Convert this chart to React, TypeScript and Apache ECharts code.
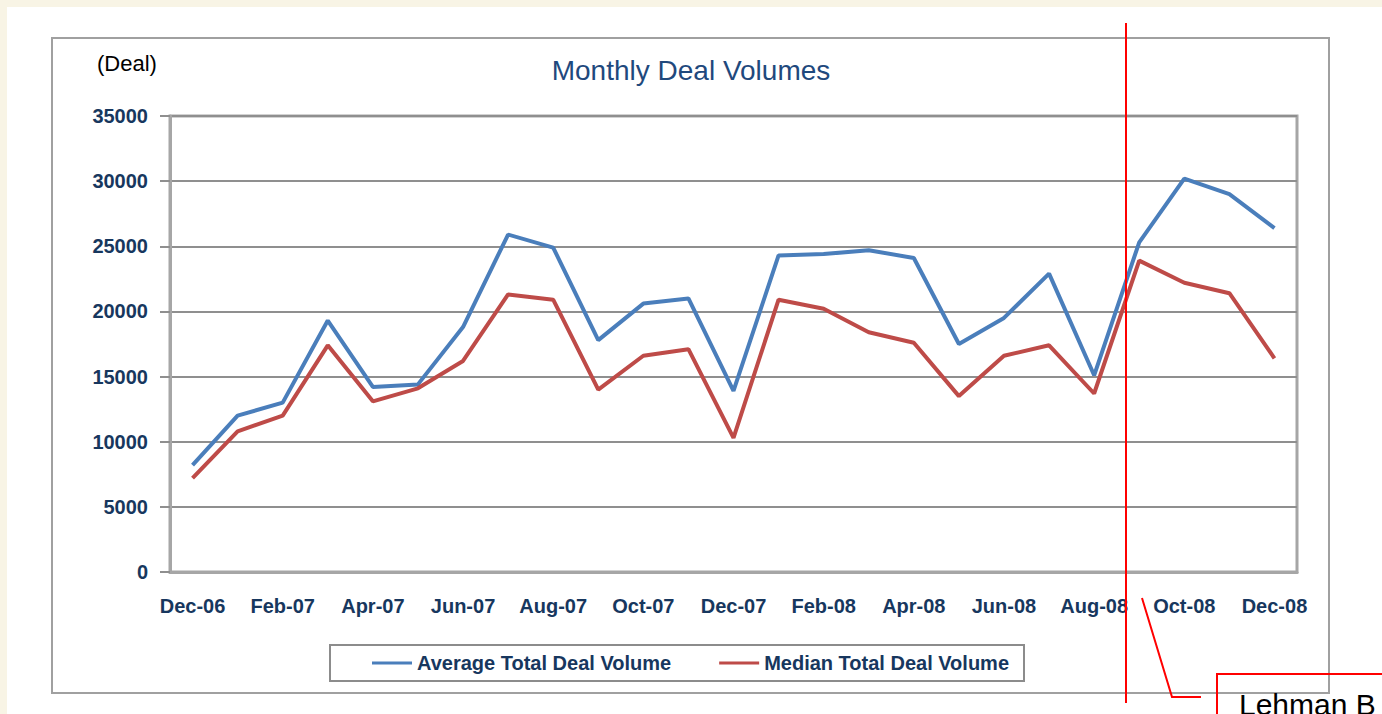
import React, { useEffect, useRef } from "react";
import * as echarts from "echarts";

const months: string[] = [
  "Dec-06", "Jan-07", "Feb-07", "Mar-07", "Apr-07", "May-07", "Jun-07", "Jul-07", "Aug-07",
  "Sep-07", "Oct-07", "Nov-07", "Dec-07", "Jan-08", "Feb-08", "Mar-08", "Apr-08", "May-08",
  "Jun-08", "Jul-08", "Aug-08", "Sep-08", "Oct-08", "Nov-08", "Dec-08",
];

const averageVolume: number[] = [
  8200, 12000, 13000, 19300, 14200, 14400, 18800, 25900, 24900, 17800, 20600, 21000, 13900,
  24300, 24400, 24700, 24100, 17500, 19500, 22900, 15100, 25300, 30200, 29000, 26400,
];

const medianVolume: number[] = [
  7200, 10800, 12000, 17400, 13100, 14100, 16200, 21300, 20900, 14000, 16600, 17100, 10300,
  20900, 20200, 18400, 17600, 13500, 16600, 17400, 13700, 23900, 22200, 21400, 16400,
];

const seriesNames: string[] = ["Average Total Deal Volume", "Median Total Deal Volume"];
const titleText = "Monthly Deal Volumes";
const unitText = "(Deal)";
const calloutText = "Lehman B";

const FONT = "'Liberation Sans', Arial, sans-serif";
const NAVY = "#17375e";
const GRAY = "#8f8f8f";

export default function App() {
  const ref = useRef<HTMLDivElement>(null);

  useEffect(() => {
    if (!ref.current) return;
    const chart = echarts.init(ref.current, undefined, { renderer: "svg" });
    chart.setOption({
      animation: false,
      backgroundColor: "#f8f4e5",
      textStyle: { fontFamily: FONT },
      title: {
        text: titleText,
        left: "center",
        top: 56,
        padding: [0, 0, 0, 6],
        textStyle: { fontFamily: FONT, fontSize: 28, fontWeight: "normal", color: "#1f497d" },
      },
      legend: {
        left: 330,
        top: 645,
        padding: [8, 15, 8, 42],
        icon: "rect",
        itemWidth: 40,
        itemHeight: 3,
        itemGap: 48,
        borderColor: "#8c8c8c",
        borderWidth: 2,
        textStyle: { fontFamily: FONT, fontSize: 20, fontWeight: "bold", color: NAVY, lineHeight: 20 },
        data: seriesNames,
      },
      grid: {
        left: 170,
        top: 116,
        right: 85,
        bottom: 142,
        show: true,
        borderColor: "#a6a6a6",
        borderWidth: 3,
        backgroundColor: "transparent",
      },
      xAxis: {
        type: "category",
        data: months,
        boundaryGap: true,
        axisLine: { lineStyle: { color: "#a6a6a6", width: 3 } },
        axisTick: { interval: 1, length: 5, lineStyle: { color: GRAY, width: 2 } },
        axisLabel: {
          interval: 1,
          margin: 24,
          color: NAVY,
          fontFamily: FONT,
          fontSize: 20,
          fontWeight: "bold",
        },
      },
      yAxis: {
        type: "value",
        min: 0,
        max: 35000,
        interval: 5000,
        axisLine: { show: true, lineStyle: { color: "#a6a6a6", width: 3 } },
        axisTick: { show: true, length: 10, lineStyle: { color: GRAY, width: 2 } },
        axisLabel: {
          margin: 22,
          color: NAVY,
          fontFamily: FONT,
          fontSize: 20,
          fontWeight: "bold",
          formatter: (v: number) => String(v),
        },
        splitLine: { lineStyle: { color: GRAY, width: 2 } },
      },
      series: [
        {
          name: seriesNames[0],
          type: "line",
          data: averageVolume,
          symbol: "none",
          color: "#4a7ebb",
          lineStyle: { color: "#4a7ebb", width: 4 },
          z: 3,
        },
        {
          name: seriesNames[1],
          type: "line",
          data: medianVolume,
          symbol: "none",
          color: "#be4b48",
          lineStyle: { color: "#be4b48", width: 4 },
          z: 3,
        },
      ],
      graphic: [
        {
          type: "rect",
          z: -100,
          silent: true,
          shape: { x: 7, y: 7, width: 1375, height: 707 },
          style: { fill: "#ffffff" },
        },
        {
          type: "rect",
          z: -90,
          silent: true,
          shape: { x: 52, y: 38, width: 1277, height: 655 },
          style: { fill: "none", stroke: "#a0a0a0", lineWidth: 2 },
        },
        {
          type: "text",
          z: 10,
          x: 97,
          y: 52,
          style: { text: unitText, fontFamily: FONT, fontSize: 22, fill: "#000000" },
        },
        {
          type: "line",
          z: 20,
          shape: { x1: 1126, y1: 23, x2: 1126, y2: 703 },
          style: { stroke: "#ff0000", lineWidth: 2 },
        },
        {
          type: "polyline",
          z: 20,
          shape: { points: [[1142, 598], [1172, 697], [1201, 697]] },
          style: { stroke: "#ff0000", lineWidth: 2, fill: "none" },
        },
        {
          type: "rect",
          z: 20,
          shape: { x: 1217, y: 674, width: 200, height: 100 },
          style: { stroke: "#ff0000", lineWidth: 2, fill: "none" },
        },
        {
          type: "text",
          z: 21,
          x: 1239,
          y: 689,
          style: { text: calloutText, fontFamily: FONT, fontSize: 30, fill: "#000000" },
        },
      ],
    });
    return () => chart.dispose();
  }, []);

  return (
    <div style={{ position: "fixed", left: 0, top: 0, width: 1382, height: 714 }}>
      <div ref={ref} style={{ width: 1382, height: 714 }} />
    </div>
  );
}
